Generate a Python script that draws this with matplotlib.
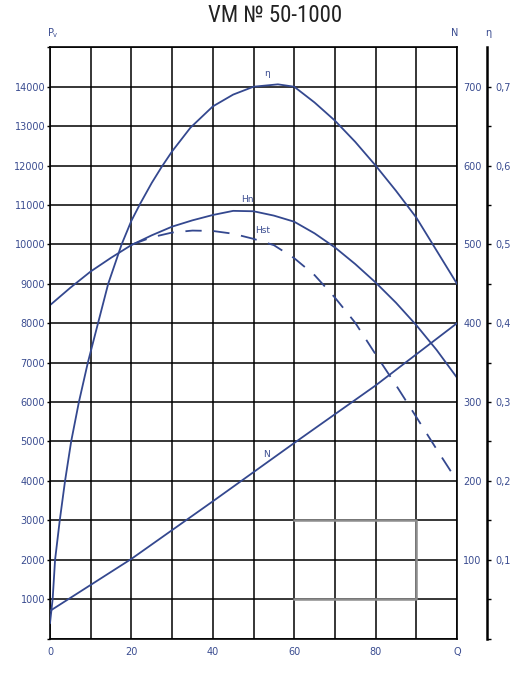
import numpy as np
import matplotlib
matplotlib.use("Agg")
import matplotlib.pyplot as plt
from matplotlib import font_manager

# values
q_eta = [0, 0.65, 1.25, 2.4, 3.7, 5.2, 7.1, 9.3, 11.8, 14.3, 17.6, 20, 22.2, 25, 27.4, 30,
         34.5, 40, 45, 50, 56, 60, 65, 70, 75, 80, 85, 90, 95, 100]
eta = [0.0195, 0.05, 0.10, 0.15, 0.20, 0.25, 0.30, 0.35, 0.40, 0.45, 0.50, 0.53, 0.552, 0.578,
       0.598, 0.618, 0.648, 0.675, 0.690, 0.700, 0.703, 0.700, 0.680, 0.657, 0.630, 0.600, 0.568,
       0.534, 0.492, 0.450]

q_hn = [0, 5, 10, 15, 20, 25, 30, 35, 40, 45, 50, 55, 60, 65, 70, 75, 80, 85, 90, 95, 100]
hn = [8457, 8900, 9313, 9660, 9983, 10230, 10450, 10610, 10745, 10850, 10840, 10730, 10575,
      10280, 9923, 9500, 9033, 8520, 7950, 7320, 6618]

q_hst = [20, 25, 30, 35, 40, 45, 50, 55, 60, 65, 70, 75, 80, 85, 90, 95, 100]
hst = [9990, 10180, 10300, 10350, 10340, 10270, 10140, 9980, 9650, 9220, 8650, 8010, 7210,
       6430, 5620, 4800, 4000]

q_n = [0, 20, 40, 60, 80, 100]
n_power = [35, 101, 174, 248, 321, 400]

x_ticks = list(range(0, 101, 10))
x_labels = ["0", "", "20", "", "40", "", "60", "", "80", "", "Q"]
pv_ticks = list(range(0, 15001, 1000))
pv_labels = [""] + [str(v) for v in range(1000, 15000, 1000)] + [""]
n_ticks = [100, 200, 300, 400, 500, 600, 700]
eta_ticks = [i * 0.05 for i in range(15)]
eta_labels = ["" if i % 2 else "0,%d" % (i // 2) for i in range(15)]
eta_labels[0] = ""

blue = "#34488f"
txt = "#3a4c90"

# pick a narrow face for the title if one is installed
names = {f.name for f in font_manager.fontManager.ttflist}
title_font = "DejaVu Sans"
title_size = 14
title_stretch = "normal"
for cand in ["Liberation Sans Narrow", "Roboto Condensed", "Open Sans Condensed",
             "Noto Sans Condensed", "DejaVu Sans Condensed"]:
    if cand in names:
        title_font, title_size = cand, 16.5
        break
else:
    condensed = [f for f in font_manager.fontManager.ttflist
                 if f.stretch in ("condensed", "semi-condensed")]
    if condensed:
        title_font, title_size, title_stretch = condensed[0].name, 16, "condensed"

fig = plt.figure(figsize=(5.25, 6.74), dpi=100)
ax = fig.add_axes([50 / 525, 1 - 638.5 / 674, 407 / 525, (638.5 - 47.3) / 674])

ax.set_xlim(0, 100)
ax.set_ylim(0, 15000)
ax.set_xticks(x_ticks)
ax.set_xticklabels(x_labels)
ax.set_yticks(pv_ticks)
ax.set_yticklabels(pv_labels)
ax.grid(True, color="black", linewidth=1.1)
ax.tick_params(axis="x", length=0, pad=6, labelsize=7, labelcolor=txt)
ax.tick_params(axis="y", length=2, width=1, pad=1.5, labelsize=7, labelcolor=txt)
for s in ax.spines.values():
    s.set_linewidth(1.2)

ax.plot(q_hn, hn, color=blue, linewidth=1.3)
ax.plot(q_hst, hst, color=blue, linewidth=1.3, linestyle=(0, (9, 6.5)))

# grey box left in the corner of the grid
ax.plot([60, 90, 90, 60], [3000, 3000, 1000, 1000], color="#8c8c8c", linewidth=1.8, zorder=5)

ax.text(53.3, 14330, "η", color=txt, fontsize=6.5, ha="center", va="center")
ax.text(48.6, 11150, "Hn", color=txt, fontsize=6.5, ha="center", va="center")
ax.text(52.3, 10350, "Hst", color=txt, fontsize=6.5, ha="center", va="center")
ax.text(53.3, 4680, "N", color=txt, fontsize=6.5, ha="center", va="center")

# N axis (right, no spine)
ax_n = ax.twinx()
ax_n.set_ylim(0, 750)
ax_n.set_yticks(n_ticks)
ax_n.tick_params(axis="y", length=0, pad=4.5, labelsize=7, labelcolor=txt)
for s in ax_n.spines.values():
    s.set_visible(False)
ax_n.plot(q_n, n_power, color=blue, linewidth=1.3)

# efficiency axis, offset spine
ax_e = ax.twinx()
ax_e.set_ylim(0, 0.75)
for k in ["left", "top", "bottom"]:
    ax_e.spines[k].set_visible(False)
ax_e.spines["right"].set_position(("axes", 1.0737))
ax_e.spines["right"].set_linewidth(1.8)
ax_e.spines["right"].set_bounds(0, 0.75)
ax_e.set_yticks(eta_ticks)
ax_e.set_yticklabels(eta_labels)
ax_e.tick_params(axis="y", length=3, width=1, pad=3, labelsize=7, labelcolor=txt)
ax_e.plot(q_eta, eta, color=blue, linewidth=1.3)

fig.text(53 / 525, 1 - 33 / 674, r"P$_{\rm v}$", color=txt, fontsize=7, ha="center", va="center")
fig.text(455 / 525, 1 - 33 / 674, "N", color=txt, fontsize=7, ha="center", va="center")
fig.text(488 / 525, 1 - 33 / 674, "η", color=txt, fontsize=7, ha="center", va="center")
fig.text(275 / 525, 1 - 16 / 674, "VM № 50-1000", color="#222222", fontsize=title_size,
         ha="center", va="center", family=[title_font, "DejaVu Sans"], fontstretch=title_stretch)

fig.savefig("out.png", dpi=100)
